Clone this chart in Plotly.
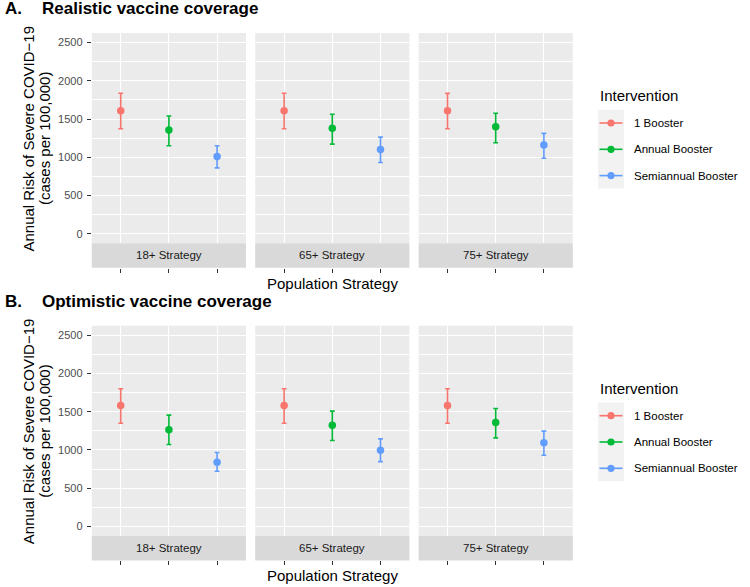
import plotly.graph_objects as go

# ---------------- data ----------------
strategies = ["18+ Strategy", "65+ Strategy", "75+ Strategy"]
interventions = ["1 Booster", "Annual Booster", "Semiannual Booster"]
colors = ["#F8766D", "#00BA38", "#619CFF"]
panel_titles = ["Realistic vaccine coverage", "Optimistic vaccine coverage"]
panel_letters = ["A.", "B."]
y_ticks = [0, 500, 1000, 1500, 2000, 2500]

# A. Realistic coverage (per strategy: 18+, 65+, 75+)
real_one_mean = [1609, 1609, 1609]
real_one_low = [1373, 1373, 1373]
real_one_high = [1837, 1837, 1835]
real_annual_mean = [1356, 1378, 1400]
real_annual_low = [1150, 1172, 1189]
real_annual_high = [1540, 1562, 1575]
real_semi_mean = [1010, 1102, 1159]
real_semi_low = [861, 932, 988]
real_semi_high = [1150, 1264, 1312]

# B. Optimistic coverage
opt_one_mean = [1582, 1582, 1582]
opt_one_low = [1350, 1350, 1350]
opt_one_high = [1801, 1801, 1801]
opt_annual_mean = [1263, 1324, 1359]
opt_annual_low = [1071, 1123, 1158]
opt_annual_high = [1455, 1508, 1543]
opt_semi_mean = [839, 997, 1093]
opt_semi_low = [721, 848, 931]
opt_semi_high = [966, 1145, 1246]

scenarios = [
    [(real_one_mean, real_one_low, real_one_high),
     (real_annual_mean, real_annual_low, real_annual_high),
     (real_semi_mean, real_semi_low, real_semi_high)],
    [(opt_one_mean, opt_one_low, opt_one_high),
     (opt_annual_mean, opt_annual_low, opt_annual_high),
     (opt_semi_mean, opt_semi_low, opt_semi_high)],
]

# ---------------- layout geometry (pixels) ----------------
W, H = 750, 587
FONT = "Liberation Sans, Arial, Helvetica, sans-serif"
PANEL_L = 91.8
PANEL_W = 154.2
PANEL_GAP = 9.2
PANEL_TOP = 33.0
PANEL_BOT = 243.3
STRIP_H = 24.4
GROUP_DY = 292.7


def px(x):
    return x / W


def py(y):
    return 1 - y / H


fig = go.Figure()
layout = dict(
    width=W, height=H, autosize=False,
    margin=dict(l=0, r=0, t=0, b=0, pad=0),
    paper_bgcolor="white", plot_bgcolor="#EBEBEB",
    showlegend=False,
    font=dict(family=FONT, color="black"),
)
shapes = []
annotations = []

for g in range(2):
    off = g * GROUP_DY
    top = PANEL_TOP + off
    bot = PANEL_BOT + off
    for c in range(3):
        idx = g * 3 + c + 1
        xs = "" if idx == 1 else str(idx)
        left = PANEL_L + c * (PANEL_W + PANEL_GAP)
        right = left + PANEL_W
        layout["xaxis" + xs] = dict(
            domain=[px(left), px(right)], anchor="free",
            position=py(bot + STRIP_H), range=[0.4, 3.6],
            tickmode="array", tickvals=[1, 2, 3], showticklabels=False,
            ticks="outside", ticklen=4, tickwidth=1.07, tickcolor="#333333",
            showgrid=True, gridcolor="white", gridwidth=1.07,
            zeroline=False, showline=False, fixedrange=True,
        )
        yaxis = dict(
            domain=[py(bot), py(top)], anchor="x" + xs, range=[-125, 2625],
            tickmode="array", tickvals=y_ticks,
            showgrid=True, gridcolor="white", gridwidth=1.07,
            minor=dict(tickmode="linear", tick0=250, dtick=500, showgrid=True,
                       gridcolor="white", gridwidth=0.53, ticks=""),
            zeroline=False, showline=False, fixedrange=True,
        )
        if c == 0:
            yaxis.update(ticks="outside", ticklen=4, tickwidth=1.07, tickcolor="#333333",
                         showticklabels=True, tickfont=dict(size=11, color="#4D4D4D", family=FONT),
                         ticklabelstandoff=2)
        else:
            yaxis.update(ticks="", showticklabels=False)
        layout["yaxis" + xs] = yaxis

        # strip
        shapes.append(dict(type="rect", xref="paper", yref="paper",
                           x0=px(left), x1=px(right), y0=py(bot + STRIP_H), y1=py(bot),
                           fillcolor="#D9D9D9", line=dict(width=0), layer="below"))
        annotations.append(dict(text=strategies[c], xref="paper", yref="paper",
                                x=px((left + right) / 2), y=py(bot + STRIP_H / 2),
                                xanchor="center", yanchor="middle", showarrow=False,
                                font=dict(size=11.5, color="#1A1A1A", family=FONT)))

        # data traces
        for k in range(3):
            mean, low, high = scenarios[g][k]
            fig.add_trace(go.Scatter(
                x=[k + 1], y=[mean[c]], mode="markers",
                marker=dict(color=colors[k], size=7.5, line=dict(width=0)),
                error_y=dict(type="data", symmetric=False,
                             array=[high[c] - mean[c]], arrayminus=[mean[c] - low[c]],
                             color=colors[k], thickness=1.6, width=2.4),
                xaxis="x" + xs, yaxis="y" + xs, hoverinfo="skip",
            ))

    # titles
    annotations.append(dict(text="<b>" + panel_letters[g] + "</b>", xref="paper", yref="paper",
                            x=px(3), y=py(8.8 + off), xanchor="left", yanchor="middle",
                            showarrow=False, font=dict(size=17, color="black", family=FONT)))
    annotations.append(dict(text="<b>" + panel_titles[g] + "</b>", xref="paper", yref="paper",
                            x=px(40), y=py(8.8 + off), xanchor="left", yanchor="middle",
                            showarrow=False, font=dict(size=17, color="black", family=FONT)))
    # y-axis title (two lines)
    annotations.append(dict(text="Annual Risk of Severe COVID\u221219", xref="paper", yref="paper",
                            x=px(28.5), y=py(139 + off), xanchor="center", yanchor="middle",
                            textangle=-90, showarrow=False,
                            font=dict(size=15, color="black", family=FONT)))
    annotations.append(dict(text="(cases per 100,000)", xref="paper", yref="paper",
                            x=px(45), y=py(139 + off), xanchor="center", yanchor="middle",
                            textangle=-90, showarrow=False,
                            font=dict(size=15, color="black", family=FONT)))
    # x-axis title
    annotations.append(dict(text="Population Strategy", xref="paper", yref="paper",
                            x=px(332.2), y=py(283 + off), xanchor="center", yanchor="middle",
                            showarrow=False, font=dict(size=15, color="black", family=FONT)))

    # legend (manual, ggplot style)
    annotations.append(dict(text="Intervention", xref="paper", yref="paper",
                            x=px(598), y=py(95.5 + off), xanchor="left", yanchor="middle",
                            showarrow=False, font=dict(size=15, color="black", family=FONT)))
    shapes.append(dict(type="rect", xref="paper", yref="paper",
                       x0=px(598), x1=px(624), y0=py(188.5 + off), y1=py(109.8 + off),
                       fillcolor="#F2F2F2", line=dict(width=0), layer="below"))
    for k in range(3):
        yc = 123 + k * 26.3 + off
        shapes.append(dict(type="line", xref="paper", yref="paper",
                           x0=px(599.5), x1=px(622.5), y0=py(yc), y1=py(yc),
                           line=dict(color=colors[k], width=1.6)))
        shapes.append(dict(type="circle", xref="paper", yref="paper",
                           x0=px(611 - 3.6), x1=px(611 + 3.6), y0=py(yc + 3.6), y1=py(yc - 3.6),
                           fillcolor=colors[k], line=dict(width=0)))
        annotations.append(dict(text=interventions[k], xref="paper", yref="paper",
                                x=px(632), y=py(yc), xanchor="left", yanchor="middle",
                                showarrow=False, font=dict(size=11.5, color="black", family=FONT)))

layout["shapes"] = shapes
layout["annotations"] = annotations
fig.update_layout(**layout)

fig.write_html("out.html", config={"displayModeBar": False},
               post_script="document.body.style.margin='0';document.body.style.overflow='hidden';")
